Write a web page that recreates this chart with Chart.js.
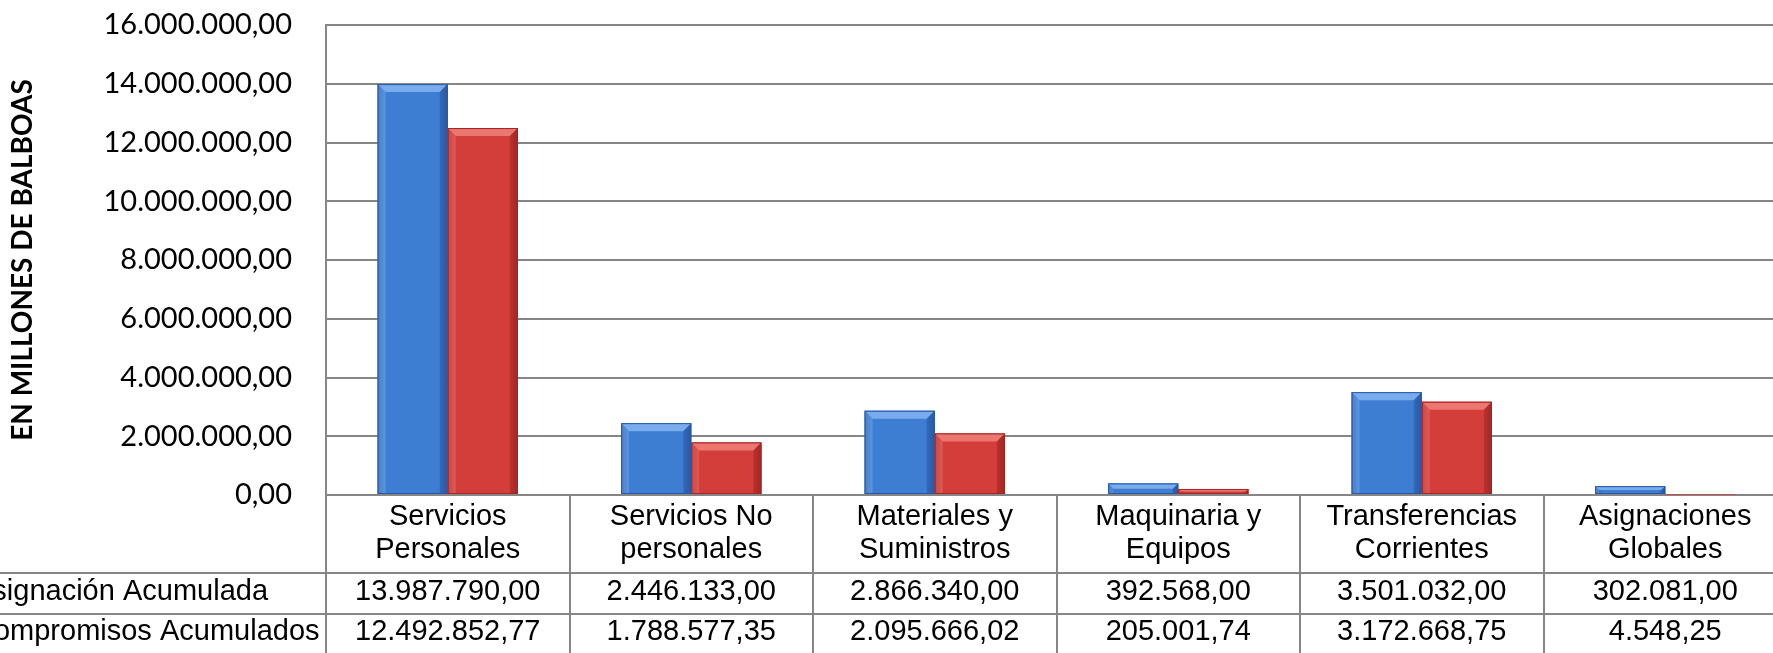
<!DOCTYPE html>
<html>
<head>
<meta charset="utf-8">
<script src="https://cdn.jsdelivr.net/npm/chart.js@4/dist/chart.umd.min.js"></script>
<style>
  html, body { margin: 0; padding: 0; background: #fff; overflow: hidden; }
  #wrap { width: 1787px; height: 653px; }
</style>
</head>
<body>
<div id="wrap"><canvas id="myChart"></canvas></div>
<script>
// data
const categories = [
  ['Servicios', 'Personales'],
  ['Servicios No', 'personales'],
  ['Materiales y', 'Suministros'],
  ['Maquinaria y', 'Equipos'],
  ['Transferencias', 'Corrientes'],
  ['Asignaciones', 'Globales']
];
const seriesNames = ['Asignación Acumulada', 'Compromisos Acumulados'];
const asignacion = [13987790.00, 2446133.00, 2866340.00, 392568.00, 3501032.00, 302081.00];
const compromisos = [12492852.77, 1788577.35, 2095666.02, 205001.74, 3172668.75, 4548.25];
const yTicks = [0, 2000000, 4000000, 6000000, 8000000, 10000000, 12000000, 14000000, 16000000];
const yTitle = 'EN MILLONES DE BALBOAS';

const GRID = 'rgb(134,134,134)';
const TABLE_FONT = '29px "Liberation Sans", Arial, sans-serif';

// 13987790 -> 13.987.790,00
function fmt(v) {
  const parts = v.toFixed(2).split('.');
  return parts[0].replace(/\B(?=(\d{3})+(?!\d))/g, '.') + ',' + parts[1];
}

const palettes = [
  { main: 'rgb(62,126,210)', light: 'rgb(120,172,236)', dark: 'rgb(40,88,165)' },
  { main: 'rgb(212,62,58)', light: 'rgb(236,118,112)', dark: 'rgb(165,38,36)' }
];

// bevelled look on top of the library's bars
const bevel = {
  id: 'bevel',
  afterDatasetsDraw(chart) {
    const ctx = chart.ctx;
    chart.data.datasets.forEach((ds, di) => {
      const meta = chart.getDatasetMeta(di);
      const p = palettes[di];
      meta.data.forEach(bar => {
        const { x, y, base, width } = bar.getProps(['x', 'y', 'base', 'width'], true);
        const h = base - y;
        if (h < 1) return;
        const l = x - width / 2, r = x + width / 2;
        const b = Math.min(8, h / 2);
        ctx.save();
        const g = ctx.createLinearGradient(l, 0, r, 0);
        g.addColorStop(0, p.dark);
        g.addColorStop(0.1, p.main);
        g.addColorStop(0.5, p.main);
        g.addColorStop(0.9, p.main);
        g.addColorStop(1, p.dark);
        ctx.fillStyle = g;
        ctx.fillRect(l, y, width, h);
        // top bevel
        ctx.fillStyle = p.light;
        ctx.beginPath();
        ctx.moveTo(l, y); ctx.lineTo(r, y); ctx.lineTo(r - b, y + b); ctx.lineTo(l + b, y + b);
        ctx.closePath(); ctx.fill();
        // left bevel
        ctx.globalAlpha = 0.45;
        ctx.beginPath();
        ctx.moveTo(l, y); ctx.lineTo(l + b, y + b); ctx.lineTo(l + b, base); ctx.lineTo(l, base);
        ctx.closePath(); ctx.fill();
        // right bevel
        ctx.fillStyle = p.dark;
        ctx.globalAlpha = 0.6;
        ctx.beginPath();
        ctx.moveTo(r, y); ctx.lineTo(r - b, y + b); ctx.lineTo(r - b, base); ctx.lineTo(r, base);
        ctx.closePath(); ctx.fill();
        ctx.globalAlpha = 1;
        ctx.strokeStyle = p.dark;
        ctx.lineWidth = 1;
        ctx.strokeRect(l + 0.5, y + 0.5, width - 1, h - 1);
        ctx.restore();
      });
    });
  }
};

// data table under the plot
const dataTable = {
  id: 'dataTable',
  afterDraw(chart) {
    const ctx = chart.ctx;
    const xs = chart.scales.x;
    const area = chart.chartArea;
    const bottom = area.bottom;
    const rows = [asignacion, compromisos];
    const rowY = [bottom + 97, bottom + 137];
    ctx.save();
    ctx.strokeStyle = GRID;
    ctx.lineWidth = 2;
    [bottom + 78, bottom + 119].forEach(yy => {
      ctx.beginPath(); ctx.moveTo(0, yy); ctx.lineTo(chart.width, yy); ctx.stroke();
    });
    ctx.fillStyle = '#000';
    ctx.font = TABLE_FONT;
    ctx.textBaseline = 'middle';
    ctx.textAlign = 'center';
    categories.forEach((lines, i) => {
      const cx = xs.getPixelForValue(i);
      lines.forEach((t, k) => ctx.fillText(t, cx, bottom + 22 + k * 33));
      rows.forEach((vals, r) => ctx.fillText(fmt(vals[i]), cx, rowY[r]));
    });
    ctx.textAlign = 'left';
    seriesNames.forEach((n, r) => ctx.fillText(n, area.left - 353, rowY[r]));
    ctx.restore();
  }
};

const data = {
  labels: categories.map(c => c.join(' ')),
  datasets: [
    { label: seriesNames[0], data: asignacion, backgroundColor: palettes[0].main, borderWidth: 0 },
    { label: seriesNames[1], data: compromisos, backgroundColor: palettes[1].main, borderWidth: 0 }
  ]
};

const config = {
  type: 'bar',
  data,
  options: {
    responsive: true,
    maintainAspectRatio: false,
    animation: false,
    datasets: { bar: { categoryPercentage: 0.576, barPercentage: 1.0 } },
    layout: { padding: { top: 25, left: 0, right: 0, bottom: 0 } },
    scales: {
      y: {
        min: 0,
        max: 16000000,
        afterBuildTicks: s => { s.ticks = yTicks.map(v => ({ value: v })); },
        afterFit: s => { s.width = 326; s.paddingTop = 0; s.paddingBottom = 0; },
        ticks: {
          padding: 34,
          color: '#000',
          font: { family: 'Lato', size: 29 },
          callback: v => fmt(v)
        },
        grid: { color: GRID, lineWidth: 2, drawTicks: false },
        border: { display: true, color: GRID, width: 2 },
        title: {
          display: true,
          text: yTitle,
          color: '#000',
          font: { family: 'Lato', size: 28, weight: 'bold' },
          padding: { top: 6, bottom: 0 }
        }
      },
      x: {
        ticks: { display: false },
        grid: {
          offset: true,
          drawOnChartArea: false,
          drawTicks: true,
          tickLength: 158,
          color: GRID,
          lineWidth: 2
        },
        border: { display: true, color: GRID, width: 2 }
      }
    },
    plugins: {
      legend: { display: false },
      tooltip: { enabled: false }
    }
  },
  plugins: [bevel, dataTable]
};

const myChart = new Chart(document.getElementById('myChart'), config);
</script>
</body>
</html>
